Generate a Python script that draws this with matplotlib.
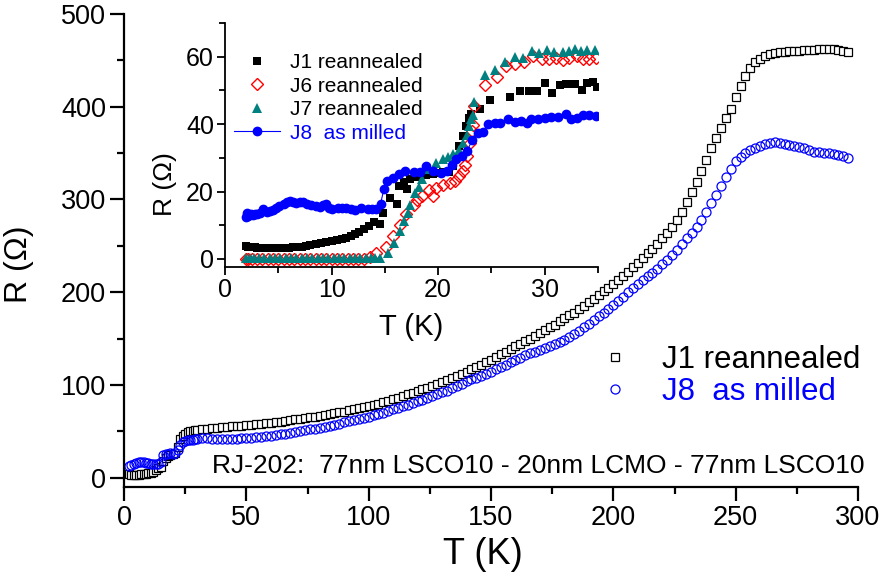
import matplotlib
matplotlib.use('Agg')
import matplotlib.pyplot as plt
from matplotlib.ticker import MultipleLocator

plt.rcParams['font.family'] = ['Liberation Sans', 'DejaVu Sans']

# main panel: R(T) of the two junctions
t_main = [2, 3, 4, 5, 6, 7, 8, 9, 10, 11, 12, 13, 14, 15, 16, 17, 18, 19, 20,
          21, 22, 23, 24, 25, 26, 27, 28, 29, 30,
          32, 34, 36, 38, 40, 42, 44, 46, 48, 50, 52, 54, 56, 58, 60, 62, 64,
          66, 68, 70, 72, 74, 76, 78, 80, 82, 84, 86, 88, 90, 92, 94, 96, 98,
          100, 102, 104, 106, 108, 110, 112, 114, 116, 118, 120, 122, 124, 126,
          128, 130, 132, 134, 136, 138, 140, 142, 144, 146, 148, 150, 152, 154,
          156, 158, 160, 162, 164, 166, 168, 170, 172, 174, 176, 178, 180, 182,
          184, 186, 188, 190, 192, 194, 196, 198, 200, 202, 204, 206, 208, 210,
          212, 214, 216, 218, 220, 222, 224, 226, 228, 230, 232, 234, 236, 238,
          240, 242, 244, 246, 248, 250, 252, 254, 256, 258, 260, 262, 264, 266,
          268, 270, 272, 274, 276, 278, 280, 282, 284, 286, 288, 290, 292, 294,
          296]
r_j1_main = [3.6, 3.4, 3.3, 3.3, 3.3, 3.5, 3.8, 4.3, 4.8, 5.5, 6.3, 8.0, 10.5,
             12, 18, 21.5, 23.5, 24.5, 25.3, 26.5, 33, 42, 45, 47.5, 49, 50,
             50.5, 51, 51.5,
             52, 53, 53.5, 54, 54.5, 55, 55.3, 55.7, 56, 56.5, 57, 57.5, 58,
             58.5, 59, 59.7, 60.4, 61.2, 62, 62.8, 63.6, 64.4, 65.2, 66, 66.8,
             67.6, 68.5, 69.4, 70.4, 71.4, 72.5, 73.6, 74.8, 76, 77.2, 78.5, 80,
             81.5, 83, 84.7, 86.4, 88, 89.8, 91.6, 93.4, 95.2, 97, 99, 101, 103,
             105, 107, 109.5, 112, 114.5, 117, 119.5, 122, 124.5, 127, 130, 133,
             136, 139, 142, 144.5, 147, 150, 153, 156, 159, 162, 165, 168.5,
             172, 175, 178, 182, 185.5, 189, 193, 197, 201, 205, 209, 213, 217,
             222, 227, 232, 237, 242, 247, 252, 258, 264, 270, 278, 287, 297,
             308, 319, 331, 343, 355, 366, 377, 388, 398, 410, 422, 433, 442,
             448, 452, 455, 457, 458, 459, 459.5, 460, 460, 460.5, 461, 461,
             461.5, 462, 462, 462.5, 462, 461, 460, 459]
r_j8_main = [13, 13.5, 14.5, 15.5, 16.5, 17, 16.5, 16, 15.5, 15, 15, 15, 15,
             17, 24, 25.5, 26, 26.5, 26, 27, 30, 35, 38, 40, 40.5, 41, 41, 41.5,
             42,
             42.5, 42.5, 42, 41.5, 41.5, 41.5, 41.7, 42, 42.3, 42.6, 43, 43.5,
             44, 44.6, 45.2, 46, 46.7, 47.4, 48.2, 49, 50, 51, 52, 53, 54, 55,
             56, 57.2, 58.4, 59.6, 60.8, 62, 63.3, 64.6, 66, 67.4, 68.8, 70.3,
             72, 73.6, 75.2, 77, 78.7, 80.5, 82.3, 84, 86, 88, 90, 92, 94, 96.5,
             99, 101.5, 104, 106, 108, 110, 112, 114.5, 117, 119.5, 122, 124.5,
             127, 129.5, 132, 134, 136, 138, 140, 142, 144, 146.5, 149, 152,
             155, 158.5, 162, 166, 170, 174, 178, 182, 186, 190.5, 195, 200,
             205, 209, 213, 217, 221, 225, 230, 235, 240, 246, 252, 258, 264,
             270, 278, 287, 296, 305, 315, 324, 333, 341, 346, 350, 353, 356,
             358, 360, 361, 361.5, 361, 360, 359, 358, 357, 355, 353, 351.5,
             351, 350.5, 350, 349, 348, 347, 345]

# inset: low temperature region
t_j1 = [2.0, 2.2, 2.4, 2.6, 2.8, 3.0, 3.3, 3.6, 4.0, 4.4, 4.8, 5.2, 5.6, 6.0,
        6.4, 6.8, 7.2, 7.6, 8.0, 8.5, 9.0, 9.5, 10.0, 10.5, 11.0, 11.4, 11.8,
        12.2, 12.6, 13.0, 13.5, 14.0, 14.5, 14.8, 15.5, 16.1, 16.3, 16.8, 17.1,
        17.4, 18.1, 18.9, 19.5, 20.0, 20.5, 21.0, 21.4, 21.7, 22.0, 22.3, 22.6,
        22.9, 23.1, 23.9, 24.9, 26.7, 27.7, 28.5, 29.3, 30.0, 30.7, 31.4, 32.0,
        32.5, 32.8, 33.5, 34.0, 34.5, 34.9]
r_j1 = [3.8, 3.6, 3.5, 3.4, 3.4, 3.3, 3.3, 3.2, 3.2, 3.2, 3.2, 3.2, 3.3, 3.3,
        3.4, 3.5, 3.6, 3.8, 4.0, 4.4, 4.7, 5.0, 5.3, 5.6, 5.9, 6.2, 6.8, 7.5,
        8.1, 8.8, 9.8, 10.9, 10.3, 13.6, 18.0, 16.4, 21.6, 22.8, 20.8, 23.6,
        24.4, 25.0, 25.3, 25.5, 25.7, 25.7, 27.5, 29.7, 33.5, 36.4, 39.4, 41.9,
        42.9, 44.6, 47.1, 48.1, 49.7, 49.9, 49.7, 52.1, 49.3, 51.7, 51.8, 51.8,
        51.8, 50.1, 52.1, 52.6, 51.0]
t_j6 = [2.0, 2.2, 2.5, 3.0, 3.5, 4.0, 4.5, 5.0, 5.5, 6.0, 6.5, 7.0, 7.5, 8.0,
        8.5, 9.0, 9.5, 10.0, 10.5, 11.0, 11.5, 12.0, 12.5, 13.0, 13.6, 14.2,
        15.1, 15.8, 16.4, 17.0, 17.7, 18.0, 18.5, 19.1, 19.5, 19.8, 20.5, 21.1,
        21.6, 22.0, 22.3, 22.5, 22.7, 23.0, 23.2, 23.3, 23.4, 24.4, 25.5, 26.4,
        27.2, 28.1, 28.9, 29.7, 30.4, 31.1, 31.7, 32.3, 33.0, 33.6, 34.2, 34.8]
r_j6 = [0.0, -0.1, 0.0, 0.1, 0.0, -0.1, 0.0, 0.0, 0.1, 0.0, -0.1, 0.0, 0.0,
        0.1, 0.0, 0.0, -0.1, 0.0, 0.1, 0.0, 0.0, -0.1, 0.0, 0.1, 0.6, 1.8,
        3.6, 6.7, 10.2, 13.2, 16.1, 17.6, 18.8, 20.4, 18.6, 21.1, 21.9, 22.4,
        23.2, 24.6, 26.0, 28.0, 30.5, 34.5, 37.9, 39.6, 45.5, 51.6, 54.0, 57.2,
        57.9, 58.4, 60.2, 59.4, 59.2, 59.7, 59.0, 59.5, 60.2, 59.4, 59.2, 59.7]
t_j7 = [2.0, 2.3, 2.7, 3.2, 3.7, 4.2, 4.7, 5.2, 5.7, 6.2, 6.7, 7.2, 7.7, 8.2,
        8.7, 9.2, 9.7, 10.2, 10.7, 11.2, 11.7, 12.2, 12.7, 13.2, 13.7, 14.1,
        14.5, 15.3, 15.9, 16.4, 16.8, 17.2, 17.4, 17.8, 18.2, 18.5, 19.1, 19.8,
        20.5, 20.9, 21.4, 22.0, 22.3, 22.7, 22.9, 23.1, 23.3, 23.4, 24.4, 25.3,
        26.3, 27.2, 28.0, 28.8, 29.5, 30.2, 30.9, 31.7, 32.3, 32.8, 33.4, 34.0,
        34.7]
r_j7 = [0.3, 0.2, 0.3, 0.2, 0.2, 0.3, 0.2, 0.2, 0.3, 0.2, 0.2, 0.2, 0.3, 0.2,
        0.2, 0.2, 0.3, 0.2, 0.2, 0.2, 0.3, 0.2, 0.2, 0.2, 0.2, 0.2, 0.3, 1.8,
        4.6, 8.2, 11.2, 13.7, 16.1, 19.6, 21.4, 23.6, 26.7, 28.5, 29.5, 30.3,
        31.0, 32.3, 34.5, 36.9, 39.4, 41.4, 42.6, 46.5, 54.5, 56.2, 58.4, 60.0,
        59.7, 61.7, 61.2, 61.9, 61.4, 61.5, 61.7, 62.2, 61.7, 61.9, 62.0]
t_j8 = [2.0, 2.1, 2.2, 2.4, 2.6, 2.8, 3.0, 3.3, 3.6, 3.9, 4.2, 4.5, 4.8, 5.1,
        5.5, 5.8, 6.1, 6.4, 6.7, 7.0, 7.3, 7.7, 8.1, 8.5, 8.9, 9.2, 9.5, 9.8,
        10.0, 10.6, 11.0, 11.4, 11.8, 12.2, 12.8, 13.4, 13.8, 14.2, 14.6, 14.9,
        15.2, 15.8, 16.3, 16.9, 17.7, 18.3, 18.9, 19.5, 20.3, 20.8, 21.3, 21.7,
        22.2, 22.7, 23.2, 23.75, 24.2, 24.7, 25.3, 25.8, 26.6, 27.2, 27.8, 28.3,
        28.75, 29.4, 30.0, 30.6, 31.25, 32.0, 32.5, 33.0, 33.6, 34.2, 34.8]
r_j8 = [12.5, 13.5, 12.8, 13.2, 13.0, 13.4, 13.2, 13.6, 14.8, 13.8, 14.2, 14.6,
        15.1, 15.6, 16.4, 16.8, 17.3, 16.9, 16.6, 17.0, 16.8, 16.4, 16.1, 15.8,
        15.4, 16.0, 16.3, 15.0, 14.7, 15.1, 15.0, 15.1, 14.8, 14.5, 15.0, 14.7,
        14.8, 14.9, 16.4, 20.6, 23.1, 24.1, 25.3, 26.0, 25.7, 25.7, 27.5, 26.0,
        25.5, 26.0, 28.0, 29.5, 30.5, 32.0, 35.2, 37.4, 37.6, 40.1, 40.4, 40.4,
        41.4, 40.6, 40.9, 40.4, 41.6, 41.6, 41.9, 42.1, 42.1, 43.1, 41.4, 41.9,
        42.6, 42.6, 42.4]

W, H = 882, 582
fig = plt.figure(figsize=(W / 100, H / 100), dpi=100)

ax = fig.add_axes([124 / W, 1 - 487 / H, (858 - 124) / W, (487 - 14) / H])
ax.plot(t_main, r_j1_main, 's', ms=6, mfc='white', mec='black', mew=0.9,
        label='J1 reannealed')
ax.plot(t_main, r_j8_main, 'o', ms=6.5, mfc='none', mec='#0000FF', mew=0.9,
        label='J8  as milled')
ax.set_xlim(0, 300)
ax.set_ylim(-10, 500)
ax.xaxis.set_major_locator(MultipleLocator(50))
ax.xaxis.set_minor_locator(MultipleLocator(25))
ax.yaxis.set_major_locator(MultipleLocator(100))
ax.yaxis.set_minor_locator(MultipleLocator(50))
for s in ['top', 'right']:
    ax.spines[s].set_visible(False)
for s in ['left', 'bottom']:
    ax.spines[s].set_linewidth(1.6)
ax.tick_params(which='major', direction='out', length=10, width=1.6,
               labelsize=19.5, pad=3)
ax.tick_params(which='minor', direction='out', length=5, width=1.6)
ax.set_xlabel('T (K)', fontsize=26)
ax.xaxis.set_label_coords(0.489, -0.105)
ax.set_ylabel('R (Ω)', fontsize=23)
ax.yaxis.set_label_coords(-0.122, 0.47)
leg = ax.legend(loc='upper left', bbox_to_anchor=(599 / W, 1 - 345 / H),
                bbox_transform=fig.transFigure, frameon=False, fontsize=22.5,
                handlelength=1.0, handletextpad=1.0, borderpad=0,
                borderaxespad=0, labelspacing=0.05)
leg.get_texts()[1].set_color('#0000FF')
fig.text(212 / W, 1 - 466 / H,
         'RJ-202:  77nm LSCO10 - 20nm LCMO - 77nm LSCO10',
         fontsize=19, va='center', ha='left')

ins = fig.add_axes([225 / W, 1 - 267 / H, (598 - 225) / W, (267 - 23) / H])
ins.plot(t_j1, r_j1, 's', ms=6, color='black', mew=0, label='J1 reannealed')
ins.plot(t_j6, r_j6, 'D', ms=6, mfc='none', mec='#FF0000', mew=1.0,
         label='J6 reannealed')
ins.plot(t_j7, r_j7, '^', ms=7, color='#008080', mew=0, label='J7 reannealed')
ins.plot(t_j8, r_j8, '-o', ms=6, color='#0000FF', lw=0.8,
         label='J8  as milled')
ins.set_xlim(0, 35)
ins.set_ylim(-2.4, 70)
ins.xaxis.set_major_locator(MultipleLocator(10))
ins.xaxis.set_minor_locator(MultipleLocator(5))
ins.yaxis.set_major_locator(MultipleLocator(20))
ins.yaxis.set_minor_locator(MultipleLocator(10))
for s in ['top', 'right']:
    ins.spines[s].set_visible(False)
for s in ['left', 'bottom']:
    ins.spines[s].set_linewidth(1.3)
ins.tick_params(which='major', direction='out', length=6, width=1.3,
                labelsize=18, pad=2)
ins.tick_params(which='minor', direction='out', length=4, width=1.3)
ins.set_xlabel('T (K)', fontsize=21, labelpad=8)
ins.set_ylabel('R (Ω)', fontsize=19)
ins.yaxis.set_label_coords(-0.13, 0.34)
ileg = ins.legend(loc='upper left', bbox_to_anchor=(234 / W, 1 - 53 / H),
                  bbox_transform=fig.transFigure, frameon=False, fontsize=15,
                  handlelength=2.2, handletextpad=0.5, borderpad=0,
                  borderaxespad=0, labelspacing=0.22)
ileg.get_texts()[3].set_color('#0000FF')

fig.savefig('out.png', dpi=100)
